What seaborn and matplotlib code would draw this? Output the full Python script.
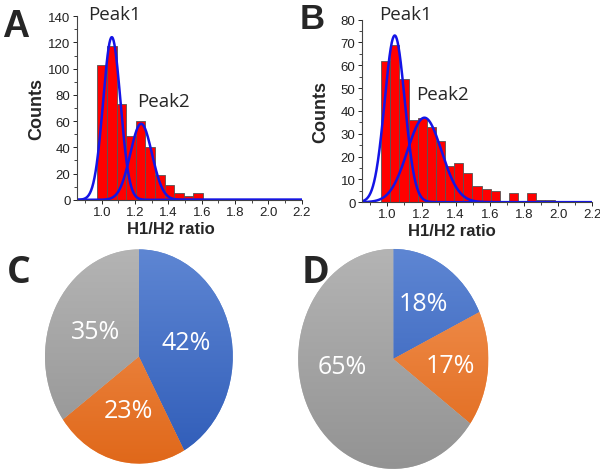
import numpy as np
import pandas as pd
import matplotlib
matplotlib.use("Agg")
import matplotlib.pyplot as plt
from matplotlib.colors import LinearSegmentedColormap
import seaborn as sns

# histogram A (bin centres / counts)
a_centers = [0.945, 1.0025, 1.06, 1.1175, 1.175, 1.2325, 1.29, 1.3475, 1.405, 1.4625,
             1.52, 1.5775, 1.635, 1.6925, 1.75, 1.8075, 1.865, 1.9225, 1.98, 2.0375, 2.095]
a_counts = [1, 103, 117, 73, 49, 60, 40, 19, 11, 5, 3, 5, 1, 0, 0, 0, 1, 0, 0, 0, 1]
a_step = 0.0575
# gaussian fits A: (centre, height, sigma)
a_peak1 = (1.06, 124, 0.052)
a_peak2 = (1.236, 58, 0.065)

# histogram B
b_centers = [0.99, 1.0435, 1.097, 1.1505, 1.204, 1.2575, 1.311, 1.3645, 1.418, 1.4715,
             1.525, 1.5785, 1.632, 1.6855, 1.739, 1.7925, 1.846, 1.8995, 1.953]
b_counts = [62, 69, 54, 36, 37, 33, 27, 16, 17, 13, 7, 6, 5, 0, 4, 0, 4, 1, 1]
b_step = 0.0535
b_peak1 = (1.043, 73, 0.059)
b_peak2 = (1.217, 37, 0.10)

# pies
pie_labels = ["blue", "orange", "gray"]
c_values = [42, 23, 35]
d_values = [18, 17, 65]
pie_colors = [("#5E86D3", "#2F5CB8"), ("#F39556", "#E0681A"), ("#B4B4B4", "#939393")]

sns.set_style("ticks")
plt.rcParams["font.family"] = ["Liberation Sans", "DejaVu Sans"]

fig = plt.figure(figsize=(6, 4.77), dpi=100)


def hist_panel(ax, centers, counts, step, peaks, ymax, ymajor, yminor, peak_pos):
    df = pd.DataFrame({"x": centers, "n": counts})
    sns.histplot(data=df, x="x", weights="n", binwidth=step,
                 binrange=(centers[0] - step / 2, centers[-1] + step / 2),
                 color="#FF0000", edgecolor="#555555", linewidth=0.6, alpha=1, ax=ax)
    xs = np.linspace(0.85, 2.2, 600)
    for mu, h, s in peaks:
        sns.lineplot(x=xs, y=h * np.exp(-0.5 * ((xs - mu) / s) ** 2),
                     color="#1414E6", lw=1.8, ax=ax)
    ax.set_xlim(0.85, 2.2)
    ax.set_ylim(0, ymax)
    ax.set_xticks(np.arange(1.0, 2.21, 0.2))
    ax.set_xticks(np.arange(0.9, 2.21, 0.1), minor=True)
    ax.set_yticks(np.arange(0, ymax + 1, ymajor))
    ax.set_yticks(np.arange(0, ymax + 1, yminor), minor=True)
    ax.xaxis.set_major_formatter(matplotlib.ticker.FormatStrFormatter("%.1f"))
    ax.tick_params(labelsize=9.5, length=3, width=0.7, colors="#222222", pad=1.5)
    ax.tick_params(which="minor", length=2, width=0.6)
    for sp in ["left", "bottom"]:
        ax.spines[sp].set_linewidth(0.8)
        ax.spines[sp].set_color("#444444")
    sns.despine(ax=ax)
    ax.set_ylabel("Counts", fontsize=13, fontweight="bold")
    ax.yaxis.set_label_coords(-0.14, 0.5)
    ax.set_xlabel("H1/H2 ratio", fontsize=12, fontweight="bold")
    ax.xaxis.set_label_coords(peak_pos[2], -0.115)
    for (tx, ty), txt in zip(peak_pos[:2], ["Peak1", "Peak2"]):
        ax.text(tx, ty, txt, ha="center", va="center", fontsize=13.5,
                family=["Open Sans", "DejaVu Sans"], clip_on=False)


ax_a = fig.add_axes([0.128, 0.579, 0.375, 0.385])
hist_panel(ax_a, a_centers, a_counts, a_step, [a_peak1, a_peak2], 140, 20, 10,
           [(1.078, 142), (1.37, 75), 0.42])

ax_b = fig.add_axes([0.603, 0.574, 0.384, 0.383])
hist_panel(ax_b, b_centers, b_counts, b_step, [b_peak1, b_peak2], 80, 10, 5,
           [(1.108, 82.5), (1.325, 47.5), 0.39])


def pie_panel(ax, values, pct_dist):
    wedges, texts, autotexts = ax.pie(values, colors=[c[0] for c in pie_colors],
                                      startangle=90, counterclock=False,
                                      autopct="%d%%", pctdistance=pct_dist,
                                      wedgeprops=dict(linewidth=0))
    grad = np.linspace(0, 1, 256).reshape(-1, 1)
    for w, (c_top, c_bot) in zip(wedges, pie_colors):
        cmap = LinearSegmentedColormap.from_list("g", [c_top, c_bot])
        im = ax.imshow(grad, extent=(-1, 1, -1, 1), origin="upper", cmap=cmap,
                       aspect="auto", zorder=w.get_zorder() + 0.1)
        im.set_clip_path(w)
    for t in autotexts:
        t.set_color("white")
        t.set_fontsize(18)
        t.set_family(["Open Sans", "DejaVu Sans"])
        t.set_zorder(5)
    ax.set_xlim(-1, 1)
    ax.set_ylim(-1, 1)
    ax.set_aspect("auto")
    ax.axis("off")
    return autotexts


ax_c = fig.add_axes([0.075, 0.026, 0.313, 0.449])
pie_panel(ax_c, c_values, 0.52)
ax_d = fig.add_axes([0.497, 0.015, 0.317, 0.461])
d_txt = pie_panel(ax_d, d_values, 0.6)
# Excel placed the big slice's label a little higher than the mid-angle
d_txt[2].set_position((-0.54, -0.07))

# panel letters
fig.text(0.003, 0.922, "A", fontsize=27, fontweight="bold", va="baseline")
fig.text(0.5, 0.94, "B", fontsize=25, fontweight="bold", va="baseline")
fig.text(0.012, 0.407, "C", fontsize=27, fontweight="bold", va="baseline",
         family=["Open Sans", "DejaVu Sans"])
fig.text(0.503, 0.407, "D", fontsize=27, fontweight="bold", va="baseline",
         family=["Open Sans", "DejaVu Sans"])

fig.savefig("out.png", dpi=100)
